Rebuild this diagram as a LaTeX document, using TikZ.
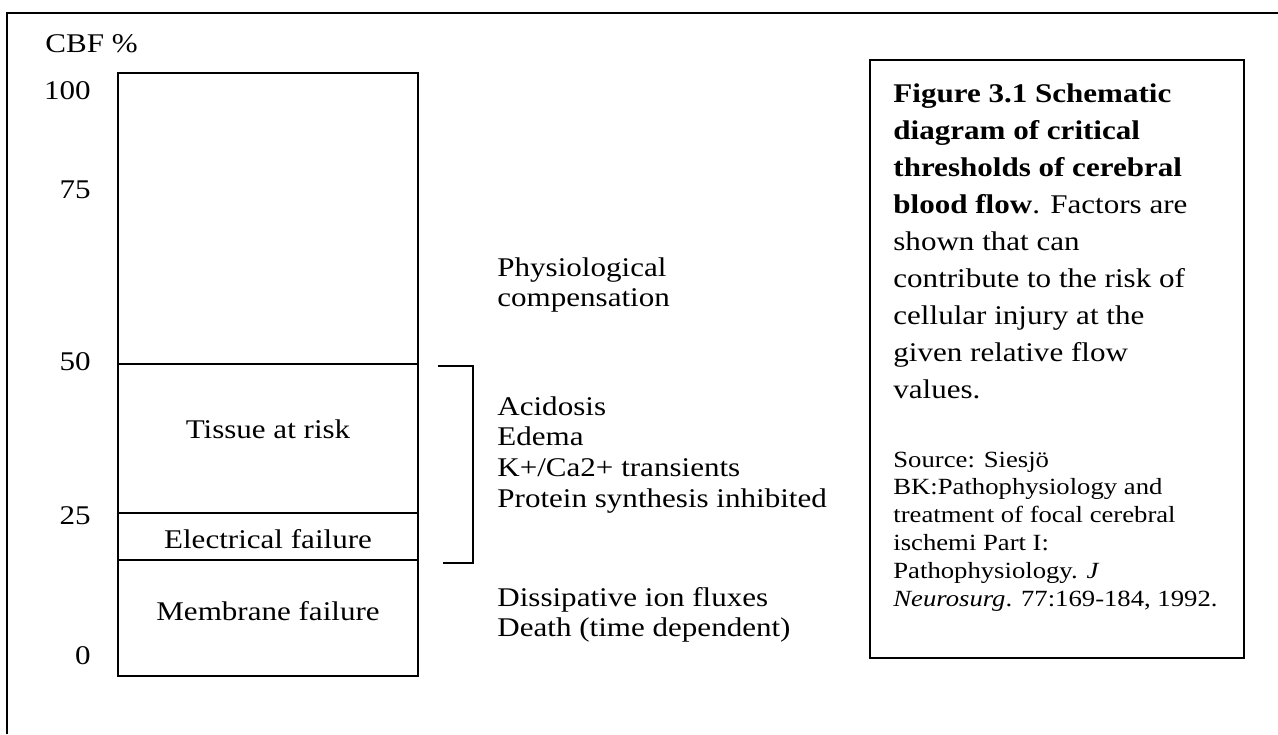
\documentclass[tikz,border=0pt]{standalone}
\usepackage{fontspec}
\setmainfont{Liberation Serif}
\usepackage{graphicx}
\usepackage{tikz}
\usetikzlibrary{positioning}
% the scan is wider than tall, so text is stretched sideways
\newcommand{\wide}[1]{\scalebox{1.15}[1]{#1}}
\newcommand{\lines}[1]{\wide{\begin{tabular}[t]{@{}l@{}}#1\end{tabular}}}
\tikzset{
	txt/.style={inner sep=0pt, font=\fontsize{13.5}{15.4}\selectfont},
	captxt/.style={inner sep=0pt, font=\fontsize{13.5}{18.5}\selectfont},
	srctxt/.style={inner sep=0pt, font=\fontsize{11.6}{13.9}\selectfont},
	frame/.style={line width=1pt},
	box/.style={line width=0.9pt}
}

\begin{document}
\begin{tikzpicture}[x=0.5pt,y=-0.5pt]
	\useasboundingbox (0,0) rectangle (1278,734);
	
	% outer frame (top and left edge only)
	\draw [frame] (1278,13) -- (7,13) -- (7,734);
	
	% CBF column
	\draw [box] (118,73) rectangle (418,676);
	\draw [box] (118,364) -- (418,364);
	\draw [box] (118,513) -- (418,513);
	\draw [box] (118,560) -- (418,560);
	\node [txt, anchor=base west] (cbf) at (45,52) {\wide{CBF \%}};
	\node [txt, anchor=base east] (t100) at (91,99) {\wide{100}};
	\node [txt, anchor=base east] (t75) at (91,198) {\wide{75}};
	\node [txt, anchor=base east] (t50) at (91,370) {\wide{50}};
	\node [txt, anchor=base east] (t25) at (91,524) {\wide{25}};
	\node [txt, anchor=base east] (t0) at (91,664) {\wide{0}};
	\node [txt, anchor=base] (risk) at (268,438) {\wide{Tissue at risk}};
	\node [txt, anchor=base] (elec) at (268,548) {\wide{Electrical failure}};
	\node [txt, anchor=base] (memb) at (268,620) {\wide{Membrane failure}};
	
	% factors on the right of the column
	\node [txt, anchor=base west] (comp) at (497,276) {\lines{Physiological\\compensation}};
	\draw [box] (438,366) -- (473,366) -- (473,563) -- (443,563);
	\node [txt, anchor=base west] (factors) at (497,415) {\lines{Acidosis\\Edema\\K+/Ca2+ transients\\Protein synthesis inhibited}};
	\node [txt, anchor=base west] (death) at (497,606) {\lines{Dissipative ion fluxes\\Death (time dependent)}};
	
	% caption box
	\draw [box] (870,60) rectangle (1244,658);
	\node [captxt, anchor=base west] (caption) at (893,102) {\lines{\textbf{Figure 3.1 Schematic}\\\textbf{diagram of critical}\\\textbf{thresholds of cerebral}\\\textbf{blood flow}. Factors are\\shown that can\\contribute to the risk of\\cellular injury at the\\given relative flow\\values.}};
	\node [srctxt, anchor=base west] (source) at (893,467) {\lines{Source: Siesjö\\BK:Pathophysiology and\\treatment of focal cerebral\\ischemi Part I:\\Pathophysiology. \textit{J}\\\textit{Neurosurg}. 77:169-184, 1992.}};
\end{tikzpicture}
\end{document}
